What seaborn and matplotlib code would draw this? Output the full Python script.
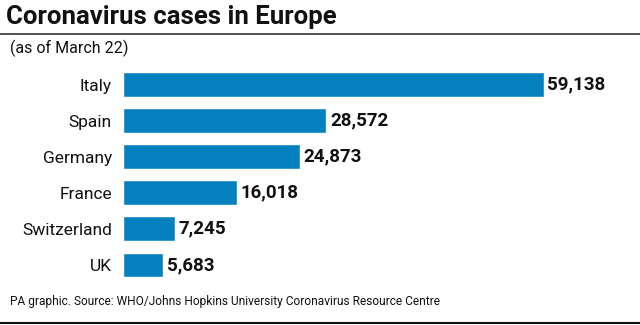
import matplotlib
matplotlib.use("Agg")
import matplotlib.pyplot as plt
import seaborn as sns
import pandas as pd
from matplotlib.lines import Line2D

countries = ["Italy", "Spain", "Germany", "France", "Switzerland", "UK"]
cases = [59138, 28572, 24873, 16018, 7245, 5683]
title = "Coronavirus cases in Europe"
subtitle = "(as of March 22)"
source = "PA graphic. Source: WHO/Johns Hopkins University Coronavirus Resource Centre"

sns.set_theme(style="white")
plt.rcParams['font.family'] = ['Roboto', 'DejaVu Sans']

df = pd.DataFrame({"country": countries, "cases": cases})

W, H = 640, 325
fig = plt.figure(figsize=(W/100, H/100), dpi=100)
ax = fig.add_axes([123/W, 1-283/H, (620-123)/W, (283-66.5)/H])
sns.barplot(data=df, y="country", x="cases", orient="h", color="#0581c0",
            saturation=1, width=0.69, ax=ax)
ax.set_xlim(0, 497*140.5)
ax.set_ylim(5.5, -0.5)
for s in ax.spines.values():
    s.set_visible(False)
ax.set_xticks([])
ax.set_xlabel("")
ax.set_ylabel("")
ax.tick_params(axis="y", length=0, pad=8, labelsize=12.5, labelcolor="#111111")
for i, v in enumerate(cases):
    ax.text(v + 500, i, f"{v:,}", va="center", ha="left",
            fontsize=13.5, fontweight="bold", color="#111111")

fig.text(6/W, 1-17/H, title, fontsize=18.5, fontweight="bold", va="center", ha="left", color="#111111")
fig.add_artist(Line2D([0, 1], [1-34/H, 1-34/H], color="#333333", lw=1.2, transform=fig.transFigure))
fig.text(10/W, 1-48/H, subtitle, fontsize=11.5, va="center", ha="left", color="#111111")
fig.text(10/W, 1-302/H, source, fontsize=8.6, va="center", ha="left", color="#111111")
fig.add_artist(Line2D([0, 1], [1-323/H, 1-323/H], color="#111111", lw=1.5, transform=fig.transFigure))

fig.savefig("out.png", dpi=100)
